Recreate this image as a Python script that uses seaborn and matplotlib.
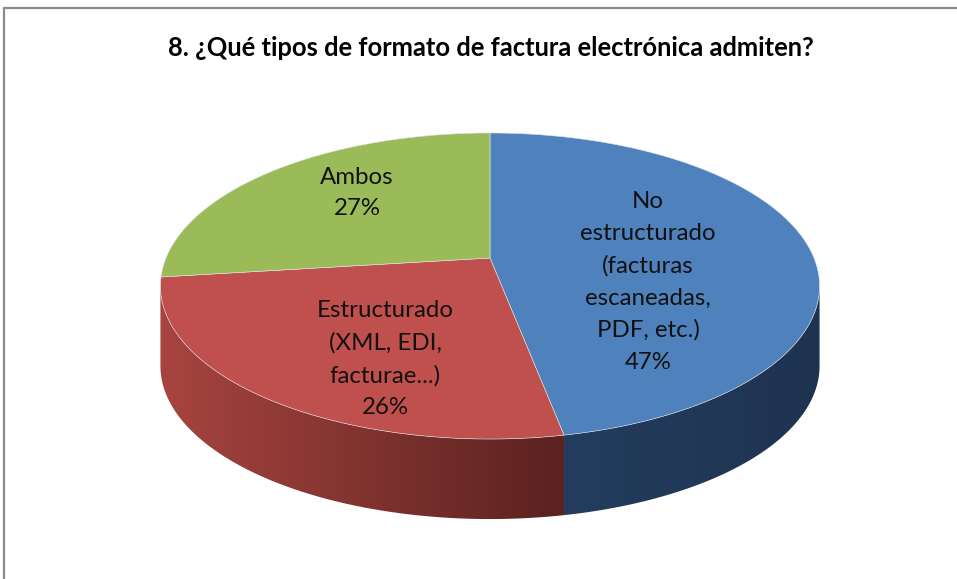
import numpy as np
import matplotlib.pyplot as plt
import matplotlib.colors as mcolors
from matplotlib.patches import Polygon
import seaborn as sns

# Data
categories = ['No\nestructurado\n(facturas\nescaneadas,\nPDF, etc.)',
              'Estructurado\n(XML, EDI,\nfacturae...)',
              'Ambos']
shares = [47, 26, 27]
colors = ['#4F81BD', '#C0504D', '#9BBB59']
side_colors = [('#243d5e', '#1e3350'), ('#a8443f', '#5a2220'), ('#7d9a45', '#5f7a30')]
label_pos = [(648, 282), (385, 359), (357, 193)]
title = '8. ¿Qué tipos de formato de factura electrónica admiten?'

sns.set_theme(style='white')
plt.rcParams['font.family'] = ['Lato', 'DejaVu Sans']

# simple perspective of a disc seen from above (pixel space)
cx, R = 490, 324
c, A, B = -0.183, 100.7, 258
depth = 80


def proj(alpha):
    a = np.radians(alpha)
    X = np.sin(a)
    v = -np.cos(a)
    den = 1 + c * v
    return cx + R * X / den, (A * v + B) / den


fig = plt.figure(figsize=(9.57, 5.79), dpi=100)
ax = fig.add_axes([0, 0, 1, 1])
ax.set_xlim(0, 957)
ax.set_ylim(579, 0)
ax.axis('off')

# frame
ax.plot([4, 4, 957], [579, 8, 8], color='#8a8a8a', lw=1.6, solid_capstyle='butt')

# angles
bounds = np.concatenate([[0], np.cumsum(shares) / sum(shares) * 360])

# visible side range (silhouette at extreme x)
grid = np.linspace(0, 360, 3601)
gx, _ = proj(grid)
a_right = grid[np.argmax(gx)]
a_left = grid[np.argmin(gx)]

# sides
for i in range(len(shares)):
    a0, a1 = max(bounds[i], a_right), min(bounds[i + 1], a_left)
    if a1 <= a0:
        continue
    arc = np.linspace(a0, a1, 200)
    tx, ty = proj(arc)
    px = np.concatenate([tx, tx[::-1]])
    py = np.concatenate([ty, ty[::-1] + depth])
    poly = Polygon(np.column_stack([px, py]), closed=True, facecolor='none', edgecolor='none')
    ax.add_patch(poly)
    cmap = mcolors.LinearSegmentedColormap.from_list('s', list(side_colors[i]))
    grad = np.linspace(0, 1, 256).reshape(1, -1)
    im = ax.imshow(grad, cmap=cmap, aspect='auto',
                   extent=[px.min(), px.max(), py.max(), py.min()], zorder=1)
    im.set_clip_path(poly)

# top faces
for i in range(len(shares)):
    arc = np.linspace(bounds[i], bounds[i + 1], 200)
    tx, ty = proj(arc)
    px = np.concatenate([[cx], tx])
    py = np.concatenate([[B], ty])
    ax.add_patch(Polygon(np.column_stack([px, py]), closed=True,
                         facecolor=colors[i], edgecolor='#dfe6ee', lw=0.4, zorder=2))

# labels
for i, (lab, s) in enumerate(zip(categories, shares)):
    x, y = label_pos[i]
    ax.text(x, y, f'{lab}\n{s}%', ha='center', va='center', fontsize=17.3,
            color='#111111', linespacing=1.63, zorder=3)

ax.text(491, 48, title, ha='center', va='center', fontsize=18.4, fontweight='bold',
        color='#000000')

fig.savefig('out.png', dpi=100)
